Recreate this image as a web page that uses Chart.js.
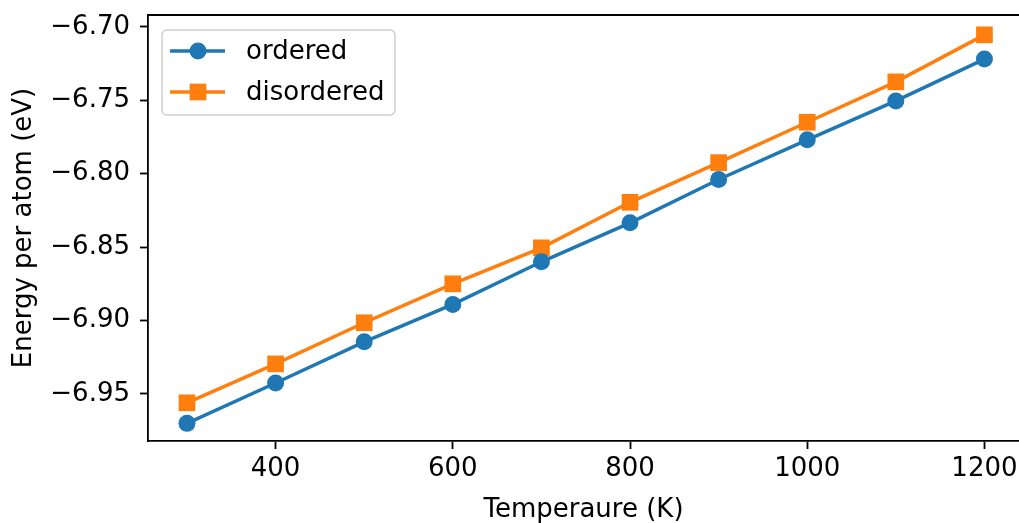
<!DOCTYPE html>
<html>
<head>
<meta charset="utf-8">
<script src="https://cdn.jsdelivr.net/npm/chart.js@4/dist/chart.umd.min.js"></script>
<style>
  html, body { margin: 0; padding: 0; background: #fff; }
  canvas { display: block; }
</style>
</head>
<body>
<canvas id="energychart" width="1019" height="523"></canvas>
<script>
const temperatures = [300, 400, 500, 600, 700, 800, 900, 1000, 1100, 1200];
const ordered = [-6.970, -6.9425, -6.9145, -6.889, -6.860, -6.8335, -6.804, -6.777, -6.7505, -6.722];
const disordered = [-6.956, -6.9295, -6.9015, -6.875, -6.8505, -6.8195, -6.7925, -6.765, -6.7375, -6.7055];
const xTicks = [400, 600, 800, 1000, 1200];
const yTicks = [-6.95, -6.90, -6.85, -6.80, -6.75, -6.70];

const blue = "#1f77b4";
const orange = "#ff7f0e";
const font = "DejaVu Sans";

Chart.defaults.font.family = font;
Chart.defaults.font.size = 26;
Chart.defaults.color = "#000";

function pts(ys) {
  return temperatures.map((t, i) => ({ x: t, y: ys[i] }));
}

// top spine (the right one is cut off in the reference)
const spines = {
  id: "spines",
  afterDraw(chart) {
    const c = chart.ctx, a = chart.chartArea;
    c.save();
    c.strokeStyle = "#000";
    c.lineWidth = 1.8;
    c.beginPath();
    c.moveTo(a.left - 0.9, a.top);
    c.lineTo(a.right, a.top);
    c.stroke();
    c.restore();
  }
};

// matplotlib-ish legend: line + marker + label
const mplLegend = {
  id: "mplLegend",
  afterDatasetsDraw(chart) {
    const c = chart.ctx, a = chart.chartArea;
    const x0 = a.left + 14, y0 = a.top + 15, w = 233, h = 85;
    c.save();
    c.beginPath();
    c.roundRect(x0, y0, w, h, 5);
    c.fillStyle = "rgba(255,255,255,0.8)";
    c.fill();
    c.strokeStyle = "#d0d0d0";
    c.lineWidth = 1.5;
    c.stroke();
    chart.data.datasets.forEach((ds, i) => {
      const y = y0 + 21 + i * 41;
      c.strokeStyle = ds.borderColor;
      c.lineWidth = ds.borderWidth;
      c.beginPath();
      c.moveTo(x0 + 8, y);
      c.lineTo(x0 + 63, y);
      c.stroke();
      c.fillStyle = ds.backgroundColor;
      c.beginPath();
      if (ds.pointStyle === "rect") {
        const s = ds.pointRadius * Math.SQRT1_2;
        c.rect(x0 + 36 - s, y - s, 2 * s, 2 * s);
      } else {
        c.arc(x0 + 36, y, ds.pointRadius, 0, Math.PI * 2);
      }
      c.fill();
      c.fillStyle = "#000";
      c.font = "26px '" + font + "'";
      c.textBaseline = "middle";
      c.fillText(ds.label, x0 + 84, y + 1);
    });
    c.restore();
  }
};

new Chart(document.getElementById("energychart"), {
  type: "line",
  data: {
    datasets: [
      {
        label: "ordered",
        data: pts(ordered),
        borderColor: blue,
        backgroundColor: blue,
        borderWidth: 3.5,
        pointStyle: "circle",
        pointRadius: 8.5,
        pointBorderWidth: 0,
        tension: 0,
      },
      {
        label: "disordered",
        data: pts(disordered),
        borderColor: orange,
        backgroundColor: orange,
        borderWidth: 3.5,
        pointStyle: "rect",
        pointRadius: 11.8,
        pointBorderWidth: 0,
        tension: 0,
      },
    ],
  },
  options: {
    responsive: false,
    animation: false,
    devicePixelRatio: 1,
    layout: { autoPadding: false, padding: { top: 15, right: 0, left: 0, bottom: 0 } },
    plugins: {
      legend: { display: false },
      tooltip: { enabled: false },
    },
    scales: {
      x: {
        type: "linear",
        min: 256,
        max: 1239,
        afterFit(scale) {
          scale.height = 82;
          scale.paddingLeft = 0;
          scale.paddingRight = 0;
        },
        afterBuildTicks(scale) { scale.ticks = xTicks.map(v => ({ value: v })); },
        grid: { drawOnChartArea: false, drawTicks: true, tickLength: 8, tickWidth: 1.8, color: "#000" },
        border: { display: true, color: "#000", width: 1.8 },
        ticks: { padding: 5, maxRotation: 0, callback: v => String(v) },
        title: { display: true, text: "Temperaure (K)", padding: { top: 0, bottom: -3 } },
      },
      y: {
        min: -6.982,
        max: -6.692,
        afterFit(scale) {
          scale.width = 148;
          scale.paddingTop = 0;
          scale.paddingBottom = 0;
        },
        afterBuildTicks(scale) { scale.ticks = yTicks.map(v => ({ value: v })); },
        grid: { drawOnChartArea: false, drawTicks: true, tickLength: 8, tickWidth: 1.8, color: "#000" },
        border: { display: true, color: "#000", width: 1.8 },
        ticks: { padding: 10, callback: v => "\u2212" + Math.abs(v).toFixed(2) },
        title: { display: true, text: "Energy per atom (eV)", padding: { top: 9, bottom: 0 } },
      },
    },
  },
  plugins: [spines, mplLegend],
});
</script>
</body>
</html>
